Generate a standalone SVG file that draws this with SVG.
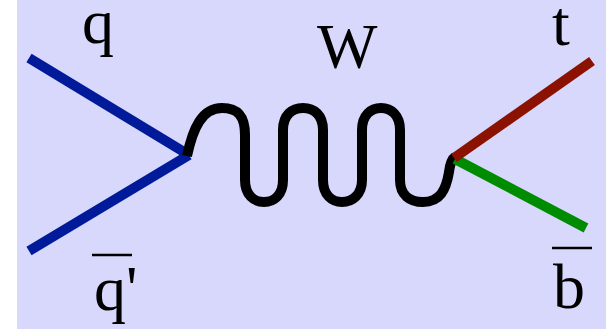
<svg xmlns="http://www.w3.org/2000/svg" width="606" height="329" viewBox="0 0 606 329">
<style>
.lbl{font-family:"Liberation Serif","Times New Roman",serif;font-size:64px;fill:#000}
.bar{stroke:#000;stroke-width:2.5}
.p{fill:none;stroke-width:10;stroke-linecap:butt}
</style>
<rect x="0" y="0" width="606" height="329" fill="#ffffff"/>
<rect x="17" y="0" width="589" height="329" fill="#d8d8fc"/>
<g id="connectors">
<line class="p" x1="29" y1="58" x2="189" y2="155" stroke="#001a9a"/>
<line class="p" x1="29" y1="251" x2="189" y2="155" stroke="#001a9a"/>
<path id="W-boson" class="p" stroke="#000" stroke-width="10" d="M187,156 C193,128 202,108 222,108 C238,108 245,116 245,135 L245,180 C245,195 254,202 264,202 C274,202 283,195 283,180 L283,130 C283,115 292,108 303,108 C314,108 323,115 323,130 L323,180 C323,195 332,202 342,202 C352,202 362,195 362,180 L362,130 C362,115 371,108 381,108 C391,108 400,115 400,130 L400,180 C400,195 410,202 423,202 C440,202 446,190 449,172 C450,164 452,159 455,157"/>
<line class="p" x1="455" y1="159" x2="586" y2="228" stroke="#008c00"/>
<line class="p" x1="454" y1="158" x2="592" y2="61" stroke="#8b1100"/>
</g>
<g id="q"><text class="lbl" x="82" y="43">q</text></g>
<g id="W"><text class="lbl" x="317" y="68">W</text></g>
<g id="t"><text class="lbl" x="552" y="45">t</text></g>
<g id="qbar"><line class="bar" x1="92" y1="255" x2="132" y2="255"/><text class="lbl" x="94" y="310">q'</text></g>
<g id="bbar"><line class="bar" x1="552" y1="248" x2="592" y2="248"/><text class="lbl" x="553" y="308">b</text></g>
</svg>
